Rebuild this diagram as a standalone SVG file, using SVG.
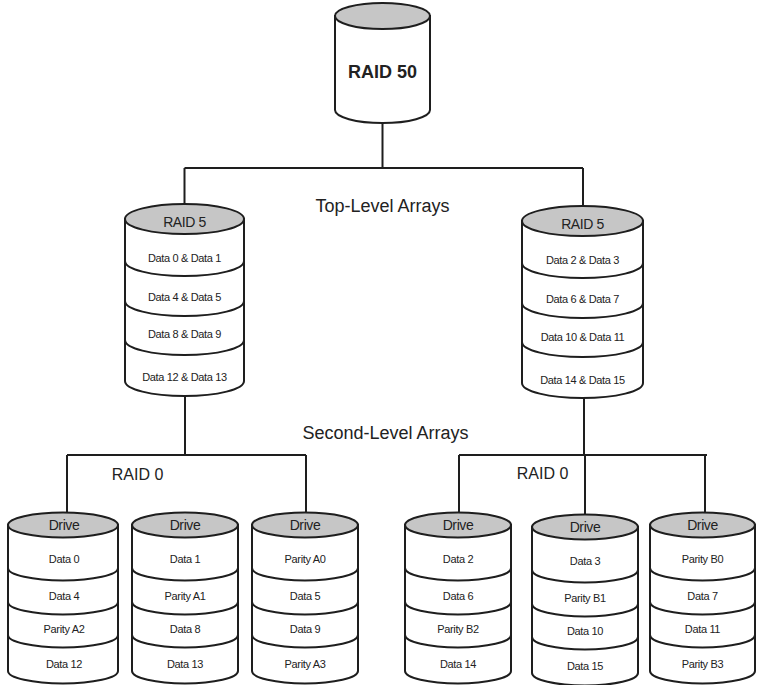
<svg xmlns="http://www.w3.org/2000/svg" width="757" height="685" viewBox="0 0 757 685">
<style>
.body{fill:#fff;stroke:#1e1e1e;stroke-width:2}
.cap{fill:#c6c6c6;stroke:#1e1e1e;stroke-width:2}
.div{fill:none;stroke:#1e1e1e;stroke-width:2}
.wire{fill:none;stroke:#1e1e1e;stroke-width:2}
text{font-family:"Liberation Sans",Arial,Helvetica,sans-serif;fill:#222;text-anchor:middle}
.lbl{font-size:11px;letter-spacing:-0.35px}
.hdr{font-size:14px;letter-spacing:-0.4px}
.big{font-size:18px}
.mid{font-size:16px}
.title{font-size:18px;font-weight:bold}
</style>
<rect width="757" height="685" fill="#fff"/>
<g id="connectors">
<path class="wire" d="M382.5,123 V168 M184.5,168 H583 M184.5,168 V205 M583,168 V207"/>
<path class="wire" d="M185,396 V455 M67,455 H306 M67,455 V513 M306,455 V513"/>
<path class="wire" d="M584,398 V455 M459,455 H707 M459,455 V513 M585,455 V515 M705,455 V513"/>
</g>
<g id="raid50">
<path class="body" d="M335,16 V110 A47.5,13 0 0 0 430,110 V16 Z"/>
<ellipse class="cap" cx="382.5" cy="16" rx="47.5" ry="13"/>
<text class="title" x="382.5" y="78">RAID 50</text>
</g>
<g id="label-top">
<text class="big" x="382.5" y="211.5">Top-Level Arrays</text>
</g>
<g id="label-second">
<text class="big" x="385.5" y="438.5">Second-Level Arrays</text>
</g>
<g id="raid0-left"><text class="mid" x="137.5" y="480">RAID 0</text></g>
<g id="raid0-right"><text class="mid" x="542.5" y="479">RAID 0</text></g>
<g id="raid5-left">
<path class="body" d="M125,219 V381 A59.5,15 0 0 0 244,381 V219 Z"/>
<path class="div" d="M125,261 A59.5,15 0 0 0 244,261 M125,301 A59.5,15 0 0 0 244,301 M125,340 A59.5,15 0 0 0 244,340"/>
<ellipse class="cap" cx="184.5" cy="219" rx="59.5" ry="15"/>
<text class="hdr" x="184.5" y="227">RAID 5</text>
<text class="lbl" x="184.5" y="262">Data 0 &amp; Data 1</text>
<text class="lbl" x="184.5" y="301">Data 4 &amp; Data 5</text>
<text class="lbl" x="184.5" y="338">Data 8 &amp; Data 9</text>
<text class="lbl" x="184.5" y="381">Data 12 &amp; Data 13</text>
</g>
<g id="raid5-right">
<path class="body" d="M522,221 V383 A60.5,15 0 0 0 643,383 V221 Z"/>
<path class="div" d="M522,263 A60.5,15 0 0 0 643,263 M522,303 A60.5,15 0 0 0 643,303 M522,342 A60.5,15 0 0 0 643,342"/>
<ellipse class="cap" cx="582.5" cy="221" rx="60.5" ry="15"/>
<text class="hdr" x="582.5" y="229">RAID 5</text>
<text class="lbl" x="582.5" y="264">Data 2 &amp; Data 3</text>
<text class="lbl" x="582.5" y="303">Data 6 &amp; Data 7</text>
<text class="lbl" x="582.5" y="341">Data 10 &amp; Data 11</text>
<text class="lbl" x="582.5" y="384">Data 14 &amp; Data 15</text>
</g>
<g id="drive1">
<path class="body" d="M8,525 V671 A55,12.5 0 0 0 118,671 V525 Z"/>
<path class="div" d="M8,568 A55,12.5 0 0 0 118,568 M8,602 A55,12.5 0 0 0 118,602 M8,635 A55,12.5 0 0 0 118,635"/>
<ellipse class="cap" cx="63" cy="525" rx="55" ry="12.5"/>
<text class="hdr" x="64" y="530">Drive</text>
<text class="lbl" x="64" y="563">Data 0</text>
<text class="lbl" x="64" y="600">Data 4</text>
<text class="lbl" x="64" y="633">Parity A2</text>
<text class="lbl" x="64" y="668">Data 12</text>
</g>
<g id="drive2">
<path class="body" d="M132,525 V671 A53,12.5 0 0 0 238,671 V525 Z"/>
<path class="div" d="M132,568 A53,12.5 0 0 0 238,568 M132,602 A53,12.5 0 0 0 238,602 M132,635 A53,12.5 0 0 0 238,635"/>
<ellipse class="cap" cx="185" cy="525" rx="53" ry="12.5"/>
<text class="hdr" x="185" y="530">Drive</text>
<text class="lbl" x="185" y="563">Data 1</text>
<text class="lbl" x="185" y="600">Parity A1</text>
<text class="lbl" x="185" y="633">Data 8</text>
<text class="lbl" x="185" y="668">Data 13</text>
</g>
<g id="drive3">
<path class="body" d="M252,525 V671 A53,12.5 0 0 0 358,671 V525 Z"/>
<path class="div" d="M252,568 A53,12.5 0 0 0 358,568 M252,602 A53,12.5 0 0 0 358,602 M252,635 A53,12.5 0 0 0 358,635"/>
<ellipse class="cap" cx="305" cy="525" rx="53" ry="12.5"/>
<text class="hdr" x="305" y="530">Drive</text>
<text class="lbl" x="305" y="563">Parity A0</text>
<text class="lbl" x="305" y="600">Data 5</text>
<text class="lbl" x="305" y="633">Data 9</text>
<text class="lbl" x="305" y="668">Parity A3</text>
</g>
<g id="drive4">
<path class="body" d="M405,525 V671 A53,12.5 0 0 0 511,671 V525 Z"/>
<path class="div" d="M405,568 A53,12.5 0 0 0 511,568 M405,602 A53,12.5 0 0 0 511,602 M405,635 A53,12.5 0 0 0 511,635"/>
<ellipse class="cap" cx="458" cy="525" rx="53" ry="12.5"/>
<text class="hdr" x="458" y="530">Drive</text>
<text class="lbl" x="458" y="563">Data 2</text>
<text class="lbl" x="458" y="600">Data 6</text>
<text class="lbl" x="458" y="633">Parity B2</text>
<text class="lbl" x="458" y="668">Data 14</text>
</g>
<g id="drive5">
<path class="body" d="M532,527 V673 A53,12.5 0 0 0 638,673 V527 Z"/>
<path class="div" d="M532,570 A53,12.5 0 0 0 638,570 M532,604 A53,12.5 0 0 0 638,604 M532,637 A53,12.5 0 0 0 638,637"/>
<ellipse class="cap" cx="585" cy="527" rx="53" ry="12.5"/>
<text class="hdr" x="585" y="532">Drive</text>
<text class="lbl" x="585" y="565">Data 3</text>
<text class="lbl" x="585" y="602">Parity B1</text>
<text class="lbl" x="585" y="635">Data 10</text>
<text class="lbl" x="585" y="670">Data 15</text>
</g>
<g id="drive6">
<path class="body" d="M650,525 V671 A52.5,12.5 0 0 0 755,671 V525 Z"/>
<path class="div" d="M650,568 A52.5,12.5 0 0 0 755,568 M650,602 A52.5,12.5 0 0 0 755,602 M650,635 A52.5,12.5 0 0 0 755,635"/>
<ellipse class="cap" cx="702.5" cy="525" rx="52.5" ry="12.5"/>
<text class="hdr" x="702.5" y="530">Drive</text>
<text class="lbl" x="702.5" y="563">Parity B0</text>
<text class="lbl" x="702.5" y="600">Data 7</text>
<text class="lbl" x="702.5" y="633">Data 11</text>
<text class="lbl" x="702.5" y="668">Parity B3</text>
</g>
</svg>
